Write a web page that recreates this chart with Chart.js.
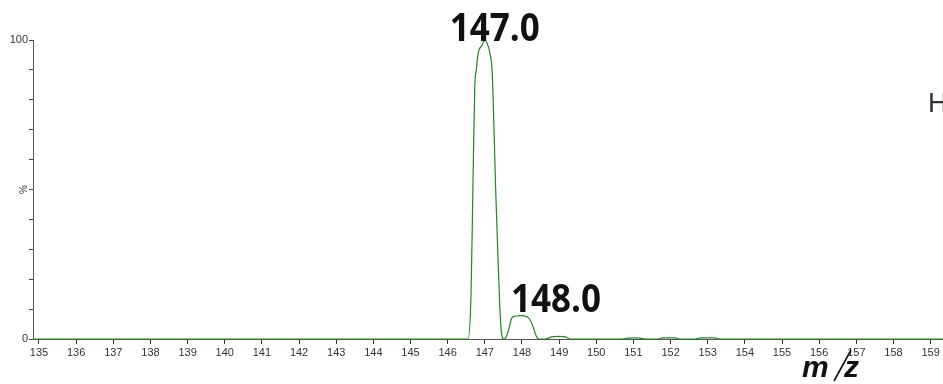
<!DOCTYPE html>
<html>
<head>
<meta charset="utf-8">
<style>
  html, body { margin: 0; padding: 0; background: #ffffff; overflow: hidden; }
  #wrap { position: relative; width: 943px; height: 384px; }
  canvas { display: block; }
</style>
<script src="https://cdn.jsdelivr.net/npm/chart.js@4/dist/chart.umd.min.js"></script>
</head>
<body>
<div id="wrap"><canvas id="spectrum" width="943" height="384"></canvas></div>
<script>
// Mass spectrum profile: m/z against relative intensity (%)
const mzValues = [
  134.84, 146.55, 146.63, 146.68, 146.73, 146.77, 146.82, 146.93, 147.00, 147.06,
  147.14, 147.20, 147.24, 147.29, 147.35, 147.40, 147.45, 147.51, 147.57, 147.65,
  147.72, 147.83, 148.00, 148.19, 148.30, 148.39, 148.46, 148.64, 148.80, 149.00,
  149.17, 149.31, 150.70, 150.85, 151.00, 151.17, 151.33, 151.62, 151.78, 151.95,
  152.12, 152.28, 152.63, 152.80, 153.00, 153.18, 153.36, 159.33
];
const intensityValues = [
  0, 0, 15.3, 50.9, 84.4, 90.0, 95.5, 98.3, 100, 98.9,
  95.5, 88.9, 73.2, 50.9, 28.7, 11.9, 1.9, 0, 0.5, 3.6,
  6.9, 7.7, 7.8, 6.9, 4.1, 0.8, 0, 0, 0.7, 0.9,
  0.7, 0, 0, 0.3, 0.35, 0.3, 0, 0, 0.35, 0.4,
  0.35, 0, 0, 0.35, 0.4, 0.35, 0, 0
];
const xTickValues = [135, 136, 137, 138, 139, 140, 141, 142, 143, 144, 145, 146, 147,
  148, 149, 150, 151, 152, 153, 154, 155, 156, 157, 158, 159];
const yTickValues = [0, 10, 20, 30, 40, 50, 60, 70, 80, 90, 100];
const yLabelledTicks = [0, 100];
const peakMz = [147.0, 148.0];
const peakIntensity = [100, 7.8];

const points = mzValues.map((mz, i) => ({ x: mz, y: intensityValues[i] }));

const annotate = {
  id: 'annotate',
  afterDatasetsDraw(chart, args, opts) {
    const ctx = chart.ctx;
    const xs = chart.scales.x, ys = chart.scales.y;
    ctx.save();

    // peak labels
    ctx.fillStyle = '#111111';
    ctx.font = 'bold 35px "Open Sans", "DejaVu Sans", sans-serif';
    ctx.textAlign = 'left';
    ctx.textBaseline = 'alphabetic';
    peakMz.forEach((mz, i) => {
      const off = opts.peakOffsets[i];
      const px = xs.getPixelForValue(mz) + off.dx;
      const py = ys.getPixelForValue(peakIntensity[i]) + off.dy;
      ctx.save();
      ctx.translate(px, py);
      ctx.scale(1, 1.12);
      ctx.fillText(mz.toFixed(1), 0, 0);
      ctx.restore();
    });

    // y-axis title, rotated
    ctx.save();
    ctx.translate(24.5, (ys.top + ys.bottom) / 2);
    ctx.rotate(-Math.PI / 2);
    ctx.fillStyle = '#333333';
    ctx.font = '10px "Liberation Sans", Arial, sans-serif';
    ctx.textAlign = 'center';
    ctx.textBaseline = 'middle';
    ctx.fillText('%', 0, 0);
    ctx.restore();

    // x-axis title m/z
    ctx.fillStyle = '#111111';
    ctx.font = 'italic bold 30px "Liberation Sans", Arial, sans-serif';
    ctx.textBaseline = 'alphabetic';
    ctx.textAlign = 'left';
    ctx.fillText('m', 802, 377);
    ctx.fillText('z', 844, 377);
    ctx.strokeStyle = '#111111';
    ctx.lineWidth = 1.6;
    ctx.beginPath();
    ctx.moveTo(851, 350);
    ctx.lineTo(834, 381);
    ctx.stroke();

    // structure fragment at the right edge
    ctx.fillStyle = '#333333';
    ctx.font = '27px "Liberation Sans", Arial, sans-serif';
    ctx.fillText('H', 928, 112);

    ctx.restore();
  }
};

new Chart(document.getElementById('spectrum'), {
  type: 'scatter',
  data: {
    datasets: [{
      data: points,
      showLine: true,
      borderColor: '#1a8c1a',
      borderWidth: 1.2,
      pointRadius: 0,
      cubicInterpolationMode: 'monotone',
      clip: 4
    }]
  },
  options: {
    responsive: false,
    animation: false,
    devicePixelRatio: 1,
    layout: { padding: { top: 40, right: 0, left: 0, bottom: 0 } },
    plugins: {
      legend: { display: false },
      tooltip: { enabled: false },
      annotate: { peakOffsets: [{ dx: -35, dy: 1 }, { dx: -11, dy: -4 }] }
    },
    scales: {
      x: {
        type: 'linear',
        min: 134.8385,
        max: 159.333,
        afterBuildTicks: s => { s.ticks = xTickValues.map(v => ({ value: v })); },
        afterFit: s => { s.height = 45; },
        grid: { drawOnChartArea: false, drawTicks: true, tickLength: 5, color: '#333333', lineWidth: 1 },
        border: { display: true, color: '#555555', width: 1 },
        ticks: {
          color: '#333333',
          padding: 2,
          maxRotation: 0,
          autoSkip: false,
          font: { family: '"Liberation Sans", Arial, sans-serif', size: 11 },
          callback: v => String(v)
        }
      },
      y: {
        type: 'linear',
        min: 0,
        max: 100,
        afterBuildTicks: s => { s.ticks = yTickValues.map(v => ({ value: v })); },
        afterFit: s => { s.width = 33; },
        grid: { drawOnChartArea: false, drawTicks: true, tickLength: 4, color: '#444444', lineWidth: 1 },
        border: { display: true, color: '#555555', width: 1 },
        ticks: {
          color: '#333333',
          padding: 1,
          autoSkip: false,
          font: { family: '"Liberation Sans", Arial, sans-serif', size: 11 },
          callback: v => (yLabelledTicks.includes(v) ? String(v) : '')
        }
      }
    }
  },
  plugins: [annotate]
});
</script>
</body>
</html>
